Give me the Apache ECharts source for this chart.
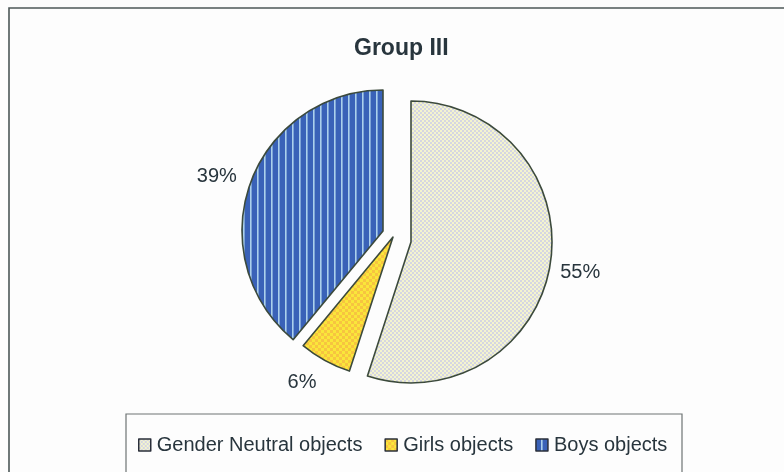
<!DOCTYPE html>
<html>
<head>
<meta charset="utf-8">
<script src="https://cdn.jsdelivr.net/npm/echarts@6/dist/echarts.min.js"></script>
<style>
  html, body { margin: 0; padding: 0; background: #fdfdfd; }
  #chart { width: 784px; height: 472px; }
</style>
</head>
<body>
<div id="chart"></div>
<script>
// Share of objects chosen, Group III
const categories = ['Gender Neutral objects', 'Girls objects', 'Boys objects'];
const shares = [55, 6, 39];

// Each slice is pulled out of the pie on its own, so each gets its own centre
const sliceCenters = [[411, 242], [393, 237], [383, 231]];
const labelLengths = [10, 24, 8];
const labelNudges = [[-5, 7], [8, 1], [-1, -4]];

function tile(w, h, paint) {
  const c = document.createElement('canvas');
  c.width = w; c.height = h;
  paint(c.getContext('2d'));
  return { image: c, repeat: 'repeat' };
}

// Fill patterns: dotted cream, yellow check, blue vertical stripes
const neutralFill = tile(4, 4, g => {
  g.fillStyle = '#f4f4cf'; g.fillRect(0, 0, 4, 4);
  g.fillStyle = '#d5d6e2'; g.fillRect(0, 0, 2, 2); g.fillRect(2, 2, 2, 2);
});
const girlsFill = tile(6, 6, g => {
  g.fillStyle = '#fae63a'; g.fillRect(0, 0, 6, 6);
  g.fillStyle = '#f7c440'; g.fillRect(0, 0, 3, 3); g.fillRect(3, 3, 3, 3);
});
const boysFill = tile(7, 6, g => {
  g.fillStyle = '#3a62b8'; g.fillRect(0, 0, 7, 6);
  g.fillStyle = '#abd0ec'; g.fillRect(5, 0, 1.6, 6);
});
const fills = [neutralFill, girlsFill, boysFill];

const edgeColor = '#3c4a3c';
const textColor = '#28353d';
const font = 'Liberation Sans, Arial, sans-serif';

const series = categories.map((name, i) => ({
  type: 'pie',
  center: sliceCenters[i],
  radius: 141,
  startAngle: 90,
  clockwise: true,
  animation: false,
  silent: true,
  emphasis: { disabled: true },
  label: {
    show: true,
    position: 'outside',
    formatter: '{c}%',
    offset: labelNudges[i],
    fontFamily: font,
    fontSize: 20,
    color: textColor
  },
  labelLine: { show: false, length: labelLengths[i], length2: 0 },
  data: categories.map((n, j) => j === i
    ? { name: n, value: shares[j],
        itemStyle: { color: fills[j], borderColor: edgeColor, borderWidth: 1.6 } }
    : { name: n, value: shares[j],
        itemStyle: { color: 'rgba(0,0,0,0)', borderWidth: 0 },
        label: { show: false } })
}));

const chart = echarts.init(document.getElementById('chart'), null, { renderer: 'canvas' });
chart.setOption({
  backgroundColor: '#fdfdfd',
  animation: false,
  title: {
    text: 'Group III',
    left: 354,
    top: 37,
    padding: 0,
    textStyle: { fontFamily: font, fontSize: 23, fontWeight: 'bold', color: textColor }
  },
  legend: {
    left: 138,
    top: 435,
    padding: 0,
    itemWidth: 12,
    itemHeight: 12,
    itemGap: 22,
    icon: 'rect',
    selectedMode: false,
    textStyle: { fontFamily: font, fontSize: 20, color: textColor, padding: [0, 0, 0, 1] },
    data: categories.map((n, i) => ({
      name: n,
      itemStyle: { color: fills[i], borderColor: '#2a2f3a', borderWidth: 1.5 }
    }))
  },
  graphic: [
    { type: 'rect', silent: true, z: -1,
      shape: { x: 9, y: 8, width: 800, height: 500 },
      style: { fill: 'none', stroke: '#4d5858', lineWidth: 1.6 } },
    { type: 'rect', silent: true, z: -1,
      shape: { x: 126, y: 414, width: 556, height: 80 },
      style: { fill: 'none', stroke: '#6e7474', lineWidth: 1.2 } }
  ],
  series: series
});
</script>
</body>
</html>
